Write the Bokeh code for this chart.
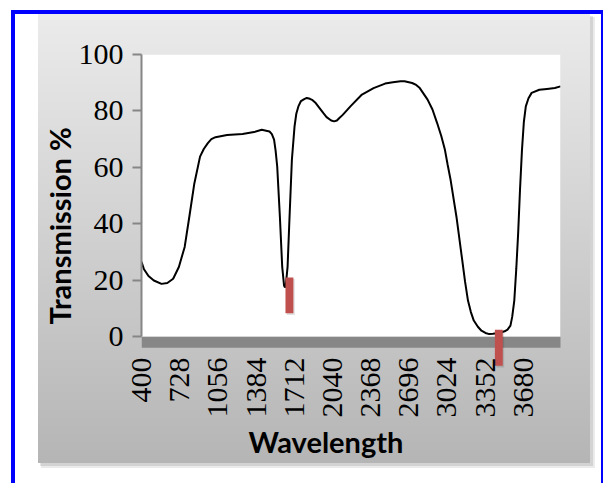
import math
from bokeh.plotting import figure
from bokeh.models import Range1d, FixedTicker, Title
from bokeh.embed import file_html
from bokeh.resources import INLINE

# ---- data ----
wavelength = [400, 420, 460, 506, 572, 622, 672, 721, 771, 811, 854, 903, 935, 970, 1000,
              1036, 1135, 1268, 1367, 1433, 1500, 1520, 1539, 1552, 1566, 1589, 1609, 1625,
              1632, 1639, 1655, 1672, 1692, 1715, 1730, 1748, 1770, 1798, 1820, 1847, 1870,
              1897, 1963, 1990, 2030, 2055, 2079, 2100, 2129, 2195, 2294, 2394, 2493, 2560,
              2626, 2660, 2725, 2760, 2791, 2858, 2900, 2940, 2975, 3007, 3030, 3056, 3106,
              3156, 3180, 3205, 3230, 3255, 3290, 3321, 3355, 3388, 3420, 3454, 3490, 3520,
              3545, 3570, 3585, 3603, 3620, 3636, 3652, 3669, 3685, 3702, 3725, 3752, 3818,
              3884, 3951, 4000]
transmission = [26.5, 24.0, 21.5, 19.9, 18.7, 19.0, 20.5, 24.7, 31.8, 42.5, 54.3, 63.8, 66.5,
                68.6, 70.0, 70.7, 71.5, 71.8, 72.5, 73.3, 72.7, 71.8, 69.8, 66.0, 60.3, 42.5,
                24.7, 18.1, 17.5, 17.8, 24.7, 42.5, 62.6, 74.5, 79.0, 81.6, 83.5, 84.2, 84.6,
                84.3, 83.8, 82.8, 79.2, 77.8, 76.6, 76.3, 76.6, 77.5, 78.6, 81.6, 85.8, 88.1,
                89.7, 90.2, 90.5, 90.5, 89.9, 89.2, 88.1, 84.0, 80.5, 75.7, 71.2, 66.2, 61.0,
                55.5, 42.5, 27.0, 19.5, 12.8, 8.7, 5.7, 3.5, 2.1, 1.3, 0.9, 1.0, 1.2, 1.5, 1.9,
                2.5, 3.9, 7.0, 12.8, 24.0, 36.5, 52.0, 66.2, 76.0, 81.6, 84.5, 86.4, 87.5,
                87.8, 88.1, 88.7]

x_tick_values = [400, 728, 1056, 1384, 1712, 2040, 2368, 2696, 3024, 3352, 3680]
y_tick_values = [0, 20, 40, 60, 80, 100]

marker_x = [1671, 3470]
marker_top = [21.0, 2.4]
marker_bottom = [8.3, -10.3]

x_title = "Wavelength"
y_title = "Transmission %"

x_start, x_end = 400, 4000
y_floor = -3.9
y_min, y_max = 0, 100
y_view_start = -12

W, H = 603, 483

p = figure(width=W, height=H, output_backend="svg", toolbar_location=None,
           x_range=Range1d(x_start, x_end), y_range=Range1d(y_view_start, y_max),
           min_border_left=141, min_border_right=43, min_border_top=54,
           min_border_bottom=113)

p.styles = {
    "background": (
        "linear-gradient(#0000ff,#0000ff) 11px 10px / 4px 100% no-repeat, "
        "linear-gradient(#0000ff,#0000ff) 11px 10px / 600px 4px no-repeat, "
        "linear-gradient(#0000ff,#0000ff) 601px 10px / 4px 100% no-repeat, "
        "linear-gradient(#ebebeb,#b5b5b5) 38px 14px / 552px 449px no-repeat, "
        "linear-gradient(rgba(0,0,0,0.10),rgba(0,0,0,0.10)) 40px 16px / 553px 450px no-repeat, "
        "linear-gradient(rgba(0,0,0,0.08),rgba(0,0,0,0.08)) 41px 17px / 554px 451px no-repeat, "
        "#ffffff"
    )
}
p.border_fill_alpha = 0
p.outline_line_color = None
p.background_fill_alpha = 0
p.xgrid.visible = False
p.ygrid.visible = False

# plot area (white) and floor
p.quad(left=[x_start], right=[x_end], bottom=[y_min], top=[y_max],
       fill_color="#ffffff", line_color=None)
p.quad(left=[x_start], right=[x_end + 10], bottom=[y_floor], top=[y_min],
       fill_color="#878787", line_color=None)

# curve
p.line(wavelength, transmission, line_color="#000000", line_width=2)

# markers (with faint shadow)
bar_half = 34
p.quad(left=[x - bar_half + 12 for x in marker_x], right=[x + bar_half + 12 for x in marker_x],
       top=[t - 0.6 for t in marker_top], bottom=[b - 0.6 for b in marker_bottom],
       fill_color="#000000", fill_alpha=0.12, line_color=None)
p.quad(left=[x - bar_half for x in marker_x], right=[x + bar_half for x in marker_x],
       top=marker_top, bottom=marker_bottom,
       fill_color="#c0504d", line_color=None)

# y axis
ya = p.yaxis[0]
ya.ticker = FixedTicker(ticks=y_tick_values)
ya.bounds = (y_min, y_max)
ya.axis_line_color = "#868686"
ya.axis_line_width = 2
ya.major_tick_line_color = "#868686"
ya.major_tick_line_width = 2
ya.major_tick_out = 9
ya.major_tick_in = 0
ya.minor_tick_line_color = None
ya.major_label_standoff = 9
ya.major_label_text_font = "Liberation Serif"
ya.major_label_text_font_size = "30px"
ya.major_label_text_color = "#000000"

# x axis
xa = p.xaxis[0]
xa.ticker = FixedTicker(ticks=x_tick_values)
xa.axis_line_color = None
xa.major_tick_line_color = None
xa.minor_tick_line_color = None
xa.major_tick_out = 0
xa.major_tick_in = 0
xa.major_label_orientation = math.pi / 2
xa.major_label_standoff = -13
xa.major_label_text_font = "Liberation Serif"
xa.major_label_text_font_size = "30px"
xa.major_label_text_color = "#000000"

# axis titles (as side titles so they can be offset like the original)
p.add_layout(Title(text=x_title, align="left", offset=107, standoff=2,
                   text_font="Lato", text_font_style="bold", text_font_size="29px",
                   text_color="#000000"), "below")
p.add_layout(Title(text=y_title, align="left", offset=46, standoff=-3,
                   text_font="Lato", text_font_style="bold", text_font_size="29px",
                   text_color="#000000"), "left")

open("out.html", "w").write(file_html(p, INLINE))
